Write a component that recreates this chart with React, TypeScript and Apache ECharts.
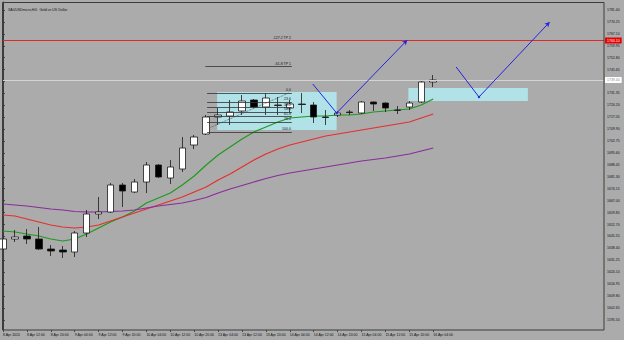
import React, { useEffect, useRef } from "react";
import * as echarts from "echarts";

const candleTimes = [
  "8 Apr 04:00", "8 Apr 08:00", "8 Apr 12:00", "8 Apr 16:00", "8 Apr 20:00",
  "9 Apr 00:00", "9 Apr 04:00", "9 Apr 08:00", "9 Apr 12:00", "9 Apr 16:00", "9 Apr 20:00",
  "10 Apr 00:00", "10 Apr 04:00", "10 Apr 08:00", "10 Apr 12:00", "10 Apr 16:00", "10 Apr 20:00",
  "13 Apr 00:00", "13 Apr 04:00", "13 Apr 08:00", "13 Apr 12:00", "13 Apr 16:00", "13 Apr 20:00",
  "14 Apr 00:00", "14 Apr 04:00", "14 Apr 08:00", "14 Apr 12:00", "14 Apr 16:00", "14 Apr 20:00",
  "15 Apr 00:00", "15 Apr 04:00", "15 Apr 08:00", "15 Apr 12:00", "15 Apr 16:00", "15 Apr 20:00",
  "16 Apr 00:00", "16 Apr 04:00",
];

const timeLabels = [
  "8 Apr 2020", "8 Apr 12:00", "8 Apr 20:00", "9 Apr 04:00", "9 Apr 12:00", "9 Apr 20:00",
  "10 Apr 04:00", "10 Apr 12:00", "10 Apr 20:00", "13 Apr 04:00", "13 Apr 12:00", "13 Apr 20:00",
  "14 Apr 04:00", "14 Apr 12:00", "14 Apr 20:00", "15 Apr 04:00", "15 Apr 12:00", "15 Apr 20:00",
  "16 Apr 04:00",
];

const openPrices = [
  1638.0, 1644.0, 1645.8, 1644.0, 1638.0, 1637.4, 1636.2, 1647.6, 1659.0, 1660.2,
  1676.4, 1672.2, 1678.2, 1688.4, 1680.6, 1686.0, 1700.4, 1707.0, 1717.2, 1717.8,
  1720.8, 1727.4, 1723.2, 1724.4, 1722.6, 1725.0, 1724.4, 1717.2, 1718.4, 1720.2,
  1719.6, 1726.2, 1725.6, 1721.4, 1723.2, 1726.2, 1738.2,
];
const closePrices = [
  1644.0, 1645.2, 1644.0, 1638.0, 1636.8, 1636.2, 1647.6, 1659.0, 1660.2, 1676.4,
  1672.8, 1678.2, 1688.4, 1681.2, 1687.2, 1698.6, 1705.2, 1717.2, 1718.4, 1720.2,
  1726.8, 1723.2, 1728.6, 1724.1, 1725.0, 1724.7, 1717.2, 1716.9, 1719.6, 1719.9,
  1726.2, 1725.0, 1722.6, 1721.2, 1725.6, 1738.2, 1739.4,
];
const lowPrices = [
  1636.2, 1642.2, 1641.0, 1637.4, 1633.8, 1632.6, 1633.2, 1645.2, 1656.0, 1659.6,
  1663.2, 1671.6, 1671.6, 1680.6, 1677.0, 1684.2, 1698.0, 1706.4, 1712.4, 1712.4,
  1718.4, 1722.6, 1718.4, 1718.4, 1720.2, 1719.6, 1713.6, 1712.4, 1717.2, 1718.4,
  1719.0, 1720.8, 1720.2, 1719.0, 1721.4, 1725.6, 1735.2,
];
const highPrices = [
  1645.8, 1649.4, 1650.0, 1651.2, 1640.4, 1639.8, 1648.8, 1661.4, 1669.2, 1677.6,
  1677.6, 1680.0, 1690.2, 1689.0, 1691.4, 1705.2, 1706.4, 1718.4, 1722.6, 1727.4,
  1730.4, 1728.0, 1731.6, 1729.2, 1727.4, 1731.6, 1726.2, 1721.4, 1720.8, 1721.4,
  1726.8, 1726.5, 1725.9, 1723.8, 1726.8, 1738.8, 1742.4,
];

const maGreen = [
  1648.8, 1648.2, 1647.0, 1645.8, 1644.0, 1642.8, 1644.0, 1647.0, 1650.6, 1654.2,
  1657.2, 1660.8, 1665.6, 1668.6, 1671.6, 1676.4, 1681.8, 1688.4, 1694.4, 1699.2,
  1704.0, 1708.2, 1711.2, 1714.2, 1716.6, 1717.2, 1717.8, 1717.8, 1718.4, 1718.4,
  1719.0, 1720.2, 1720.8, 1721.4, 1722.0, 1724.4, 1728.0,
];
const maRed = [
  1658.4, 1657.8, 1656.0, 1654.2, 1652.4, 1651.2, 1650.6, 1651.2, 1652.4, 1654.8,
  1657.2, 1659.6, 1662.0, 1664.4, 1666.8, 1669.2, 1672.2, 1675.2, 1679.4, 1683.0,
  1687.2, 1691.4, 1695.0, 1698.0, 1700.4, 1702.2, 1704.0, 1705.8, 1707.0, 1708.2,
  1709.4, 1710.6, 1711.8, 1713.0, 1714.2, 1716.6, 1719.0,
];
const maPurple = [
  1665.0, 1664.4, 1663.8, 1662.9, 1662.0, 1661.4, 1660.5, 1660.2, 1660.2, 1660.5,
  1660.8, 1661.4, 1662.6, 1663.8, 1664.7, 1665.6, 1667.1, 1668.9, 1671.6, 1674.0,
  1676.1, 1678.2, 1680.3, 1682.1, 1683.6, 1684.8, 1686.0, 1687.2, 1688.4, 1689.6,
  1690.8, 1691.7, 1692.6, 1693.8, 1695.0, 1696.8, 1698.6,
];

const priceTicks = [
  1781.4, 1774.25, 1767.1, 1759.95, 1752.8, 1745.65, 1738.5, 1731.35, 1724.2, 1717.05,
  1709.9, 1702.75, 1695.6, 1688.45, 1681.3, 1674.15, 1667.0, 1659.85, 1652.7, 1645.55,
  1638.4, 1631.25, 1624.1, 1616.95, 1609.8, 1602.65, 1595.5,
];

const fibNames = ["0.0", "23.6", "38.2", "50.0", "61.8", "76.4", "100.0"];
const fibPrices = [1731.6, 1726.2, 1722.9, 1720.2, 1717.5, 1714.2, 1708.2];
const targetNames = ["-61.8 TP 1", "-127.2 TP 2"];
const targetPrices = [1747.4, 1763.0];
const fibStartEnd = [17.08, 24.17];

const levelPrice = 1763.1;
const bidPrice = 1739.4;

// arrows: [candle index, price] points: start, vertex, end
const arrowPaths = [
  [[25.92, 1737.0], [27.92, 1719.6], [33.83, 1763.4]],
  [[37.92, 1747.2], [39.83, 1729.2], [45.75, 1774.2]],
];
// zones: [x1, priceTop, x2, priceBottom]
const zones = [
  [17.92, 1732.2, 27.92, 1709.4],
  [33.92, 1734.6, 43.92, 1726.8],
];

const FONT = "Liberation Sans, Arial, sans-serif";
const FS = 3.5;
const X_MIN = -0.5 / 12;
const X_MAX = X_MIN + 604 / 12;

export default function App() {
  const ref = useRef<HTMLDivElement>(null);

  useEffect(() => {
    document.body.style.margin = "0";
    const chart = echarts.init(ref.current!, null, { renderer: "svg" });

    const idx = candleTimes.map((_, i) => i);
    const candleData = idx.map((i) => [i, openPrices[i], closePrices[i], lowPrices[i], highPrices[i]]);
    const pair = (arr: number[]) => idx.map((i) => [i, arr[i]]);
    const labelTicks = timeLabels.map((_, j) => j * 2);

    const fibLines: any[] = fibNames.map((n, i) => [
      { coord: [fibStartEnd[0], fibPrices[i]], name: n },
      { coord: [fibStartEnd[1], fibPrices[i]] },
    ]);
    targetNames.forEach((n, i) => {
      fibLines.push([
        { coord: [fibStartEnd[0] - 0.15, targetPrices[i]], name: n },
        { coord: [fibStartEnd[1], targetPrices[i]] },
      ]);
    });

    const arrowLines: any[] = [];
    arrowPaths.forEach((p) => {
      arrowLines.push([{ coord: p[0] }, { coord: p[1] }]);
      arrowLines.push([
        { coord: p[1], symbol: "circle", symbolSize: 2.5 },
        { coord: p[2], symbol: "arrow", symbolSize: [4, 5] },
      ]);
    });

    const option: any = {
      animation: false,
      backgroundColor: "#ABABAB",
      textStyle: { fontFamily: FONT },
      title: {
        text: "XAUUSDmicro,H4:  Gold vs US Dollar",
        left: 3,
        top: 3,
        textStyle: { fontSize: FS, fontWeight: "normal", color: "#111", fontFamily: FONT },
      },
      grid: { left: 0, right: 20, top: 2, bottom: 10 },
      xAxis: {
        type: "value",
        min: X_MIN,
        max: X_MAX,
        axisLine: { show: false },
        splitLine: { show: false },
        axisTick: {
          show: true,
          length: 2,
          customValues: labelTicks,
          lineStyle: { color: "#333", width: 0.8 },
        },
        axisLabel: {
          customValues: labelTicks,
          formatter: (v: number) => timeLabels[Math.round(v / 2)] ?? "",
          align: "left",
          fontSize: FS,
          color: "#111",
          margin: 3,
          fontFamily: FONT,
          showMinLabel: true,
          showMaxLabel: true,
        },
      },
      yAxis: {
        type: "value",
        position: "right",
        min: 1589.4,
        max: 1786.2,
        axisLine: { show: true, lineStyle: { color: "#3c3c3c", width: 1 } },
        axisTick: {
          show: true,
          length: 2,
          customValues: priceTicks,
          lineStyle: { color: "#333", width: 0.8 },
        },
        axisLabel: {
          customValues: priceTicks,
          formatter: (v: number) => v.toFixed(2),
          fontSize: FS,
          color: "#111",
          margin: 3,
          fontFamily: FONT,
        },
        splitLine: { show: false },
      },
      graphic: [
        {
          type: "rect",
          shape: { x: 2.5, y: 2.5, width: 601.5, height: 327.5 },
          style: { fill: "none", stroke: "#3c3c3c", lineWidth: 1 },
          silent: true,
          z: 100,
        },
      ],
      series: [
        {
          type: "line",
          data: [],
          z: 1,
          silent: true,
          markArea: {
            silent: true,
            itemStyle: { color: "#B0E2E8", opacity: 1 },
            label: { show: false },
            data: zones.map((z) => [{ coord: [z[0], z[1]] }, { coord: [z[2], z[3]] }]),
          },
        },
        {
          type: "line",
          data: [],
          z: 2,
          silent: true,
          markLine: {
            silent: true,
            symbol: ["none", "none"],
            label: { show: false },
            data: [
              {
                yAxis: bidPrice,
                lineStyle: { color: "#d4d4d4", width: 1, type: "solid" },
                label: {
                  show: true,
                  position: "end",
                  distance: 1,
                  formatter: bidPrice.toFixed(2),
                  backgroundColor: "#ffffff",
                  color: "#8a8a8a",
                  fontSize: FS,
                  padding: [1, 2],
                  fontFamily: FONT,
                },
              },
            ],
          },
        },
        {
          name: "MA fast",
          type: "line",
          data: pair(maGreen),
          showSymbol: false,
          z: 3,
          lineStyle: { color: "#1E9A1E", width: 1.2 },
        },
        {
          name: "MA mid",
          type: "line",
          data: pair(maRed),
          showSymbol: false,
          z: 3,
          lineStyle: { color: "#E62E2E", width: 1.2 },
        },
        {
          name: "MA slow",
          type: "line",
          data: pair(maPurple),
          showSymbol: false,
          z: 3,
          lineStyle: { color: "#8A2C9C", width: 1.2 },
        },
        {
          name: "XAUUSD",
          type: "candlestick",
          data: candleData,
          encode: { x: 0, y: [1, 2, 3, 4] },
          barWidth: 7,
          z: 4,
          itemStyle: {
            color: "#ffffff",
            color0: "#000000",
            borderColor: "#1a1a1a",
            borderColor0: "#1a1a1a",
            borderWidth: 0.8,
          },
        },
        {
          type: "line",
          data: [],
          z: 5,
          silent: true,
          markLine: {
            silent: true,
            symbol: ["none", "none"],
            lineStyle: { color: "#333333", width: 0.8, type: "solid" },
            label: {
              show: true,
              position: "insideEndTop",
              formatter: "{b}",
              fontSize: FS,
              color: "#111",
              distance: 1,
              fontFamily: FONT,
            },
            data: [
              ...fibLines,
              [
                { coord: [17.25, 1710.6], lineStyle: { type: "dotted", color: "#444" }, label: { show: false } },
                { coord: [23.92, 1731.6] },
              ],
            ],
          },
        },
        {
          type: "line",
          data: [],
          z: 6,
          silent: true,
          markLine: {
            silent: true,
            symbol: ["none", "none"],
            label: { show: false },
            data: [
              {
                yAxis: levelPrice,
                lineStyle: { color: "#E02828", width: 1, type: "solid" },
                label: {
                  show: true,
                  position: "end",
                  distance: 1,
                  formatter: levelPrice.toFixed(2),
                  backgroundColor: "#E80000",
                  color: "#ffffff",
                  fontSize: FS,
                  padding: [1, 2],
                  fontFamily: FONT,
                },
              },
            ],
          },
        },
        {
          type: "line",
          data: [],
          z: 7,
          silent: true,
          markLine: {
            silent: true,
            symbol: ["none", "none"],
            lineStyle: { color: "#2424E0", width: 1, type: "solid" },
            itemStyle: { color: "#2424E0" },
            label: { show: false },
            data: arrowLines,
          },
        },
      ],
    };

    chart.setOption(option);
    return () => chart.dispose();
  }, []);

  return <div ref={ref} style={{ width: 624, height: 340 }} />;
}
